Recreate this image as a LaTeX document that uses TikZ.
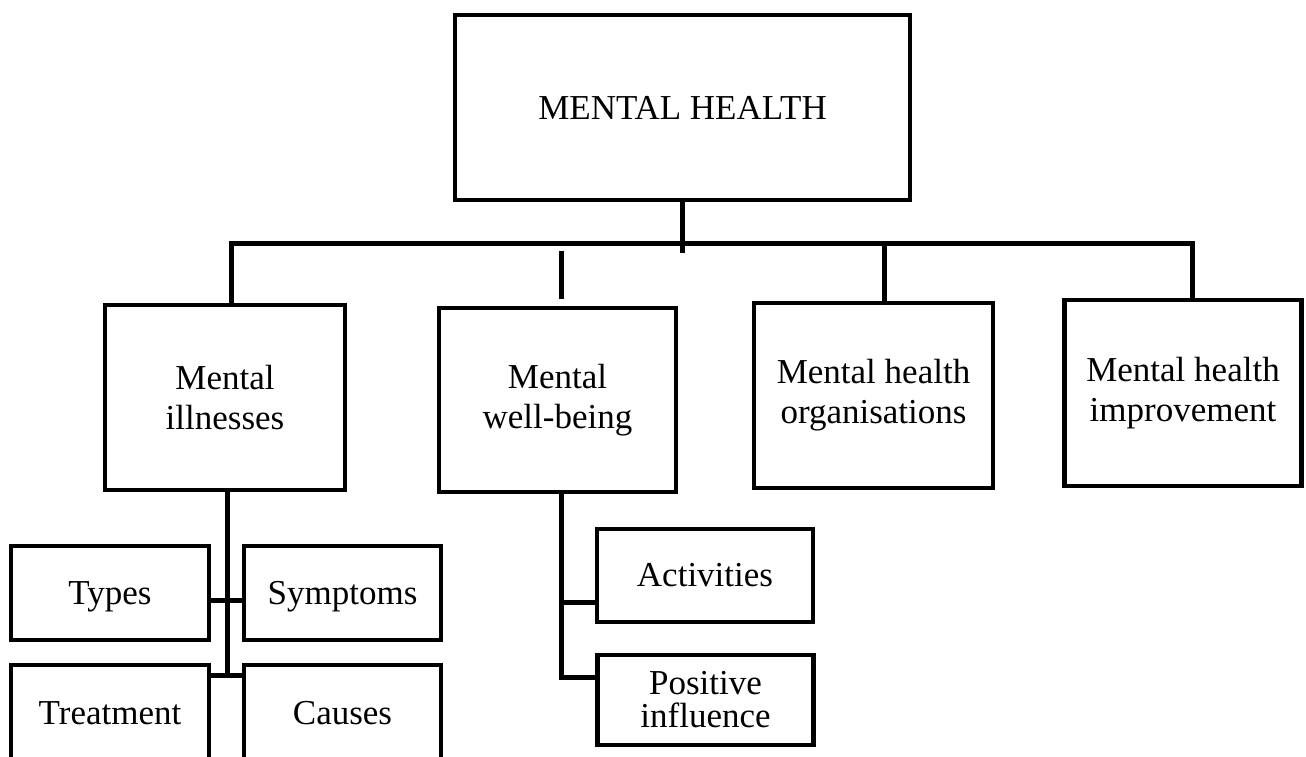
\documentclass[tikz,border=0pt]{standalone}
\usepackage{fontspec}
\setmainfont{Liberation Serif}
\begin{document}
\begin{tikzpicture}[x=1pt,y=-1pt,
  box/.style={draw, line width=4.5pt, inner sep=0pt, align=center,
    font=\fontsize{35}{40}\selectfont},
  conn/.style={line width=5pt, line cap=rect}]
\useasboundingbox (0,0) rectangle (1306,756);
\clip (0,0) rectangle (1306,756);
\fill[white] (0,0) rectangle (1306,756);
% boxes
\node[box, minimum width=455pt, minimum height=185pt] (top) at (682.5,107.5) {MENTAL HEALTH};
\node[box, minimum width=240pt, minimum height=185pt] (ill) at (225,397.5) {Mental\\illnesses};
\node[box, minimum width=237pt, minimum height=184pt] (well) at (557.5,400) {Mental\\well-being};
\node[box, minimum width=239pt, minimum height=185pt] (org) at (873.5,395.5) {Mental health\\organisations};
\node[box, minimum width=237pt, minimum height=186pt] (imp) at (1183,393) {Mental health\\improvement};
\node[box, minimum width=198pt, minimum height=94pt, text depth=0pt] (types) at (110,593) {Types};
\node[box, minimum width=197pt, minimum height=94pt, text depth=0pt] (symp) at (342.5,593) {Symptoms};
\node[box, minimum width=198pt, minimum height=96pt] (treat) at (110,713) {Treatment};
\node[box, minimum width=197pt, minimum height=96pt] (causes) at (342.5,713) {Causes};
\node[box, minimum width=216pt, minimum height=93pt] (act) at (705,575.5) {Activities};
\node[box, minimum width=216pt, minimum height=90pt, font=\fontsize{35}{33}\selectfont] (pos) at (705.5,700) {Positive\\influence};
% connectors
\coordinate (drop) at (682,250);
\coordinate (busL) at (231,243);
\coordinate (busO) at (884,243);
\coordinate (busR) at (1192,243);
\coordinate (wl1) at (561,253);
\coordinate (wl2) at (561,296);
\coordinate (illEnd) at (227,675);
\coordinate (wEnd) at (561,677);
\coordinate (wA) at (561,602);
\draw[conn] (top.south -| drop) -- (drop);
\draw[conn] (busL) -- (busR);
\draw[conn] (busL) -- (busL |- ill.north);
\draw[conn] (wl1) -- (wl2);
\draw[conn] (busO) -- (busO |- org.north);
\draw[conn] (busR) -- (busR |- imp.north);
\draw[conn] (ill.south -| illEnd) -- (illEnd);
\draw[conn] ([yshift=-7pt]types.east) -- ([yshift=-7pt]symp.west);
\draw[conn] ([yshift=38pt]treat.east) -- ([yshift=38pt]causes.west);
\draw[conn] (well.south -| wEnd) -- (wEnd);
\draw[conn] (wA) -- (wA -| act.west);
\draw[conn] (wEnd) -- (wEnd -| pos.west);
\end{tikzpicture}
\end{document}
